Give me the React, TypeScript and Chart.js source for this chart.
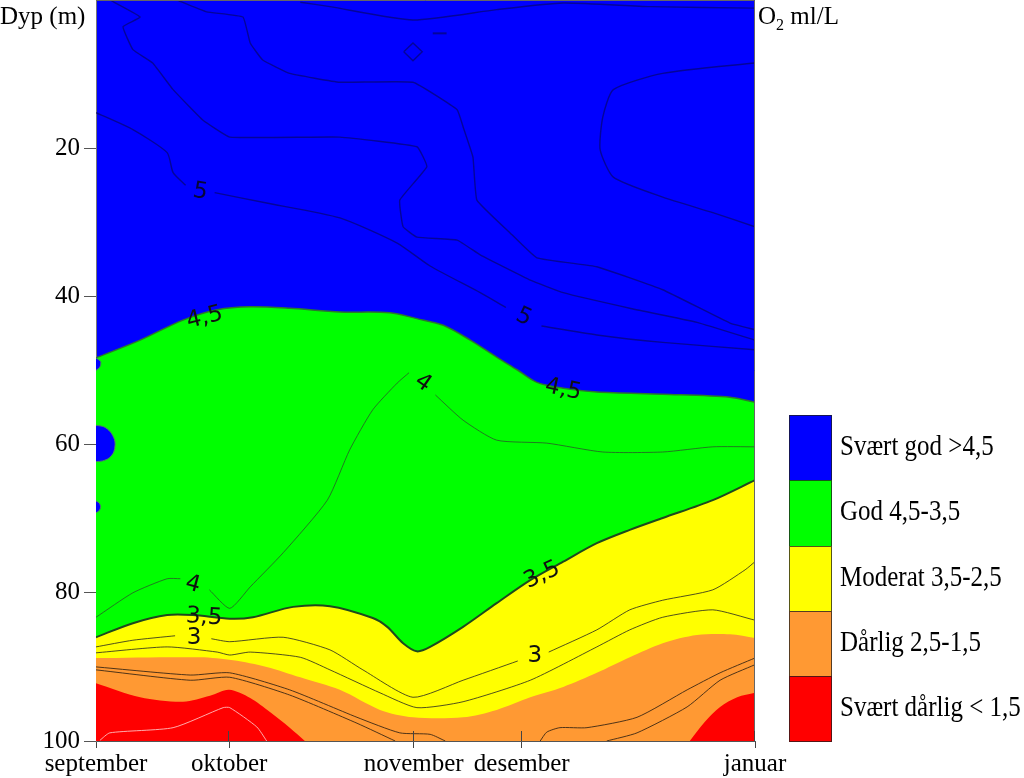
import React, { useEffect, useRef } from "react";
import { Chart, registerables } from "chart.js";

Chart.register(...registerables);

// x: relative position along the time axis (september = 0, januar = 100)
const MONTH_POS = [0, 20.2, 48.2, 64.6, 100];
const MONTH_LABELS = ["september", "oktober", "november", "desember", "januar"];
const DEPTH_TICKS = [20, 40, 60, 80, 100];

const LEGEND_LABELS = ["Svært god >4,5", "God 4,5-3,5", "Moderat 3,5-2,5", "Dårlig 2,5-1,5", "Svært dårlig < 1,5"];
const CLASS_COLORS = ["#0000FF", "#00FF00", "#FFFF00", "#FF9933", "#FF0000"];

type P = [number, number | null]; // [time position, depth (m)]

// class boundaries (filled down to 100 m)
const ISO_45: P[] = [[0,48.3],[6.7,45.9],[13.2,43.2],[18.4,41.8],[23.4,41.4],[29.4,41.6],[37.0,42.1],[44.6,42.2],[48.7,43.0],[52.7,43.9],[56.8,45.9],[60.8,48.2],[63.9,49.9],[66.9,51.6],[70.9,52.4],[76.0,52.9],[86.0,53.2],[96.2,53.6],[100,54.3]];
const ISO_35: P[] = [[0,86.0],[5.6,84.1],[10.8,83.0],[14.7,83.0],[20.3,83.5],[23.8,83.3],[29.9,81.9],[35.5,81.8],[42.0,83.4],[44.2,84.6],[46.6,86.8],[48.7,87.9],[50.7,87.3],[55.7,84.6],[60.8,81.4],[65.9,78.3],[70.9,75.8],[76.0,73.3],[81.0,71.5],[86.0,69.9],[93.6,67.5],[100,64.8]];
const ISO_25: P[] = [[0,88.8],[15.8,88.7],[20.8,89.1],[25.9,90.0],[31.0,91.4],[37.0,93.1],[43.1,95.8],[48.1,96.8],[55.7,96.8],[60.8,95.8],[65.9,94.1],[70.9,92.7],[76.0,90.8],[81.0,88.7],[86.0,86.8],[91.2,85.7],[96.2,85.6],[100,86.1]];
const ISO_15_LEFT: P[] = [[0,92.2],[6.7,94.1],[13.2,94.7],[17.3,93.9],[20.2,93.1],[23.4,94.2],[26.4,96.1],[29.4,98.2],[31.7,100]];
const ISO_15_RIGHT: P[] = [[90.1,100],[92.4,97.4],[94.7,95.4],[97.3,94.1],[100,93.5]];

// small pockets > 4,5 inside the green band
const POCKET_A: P[] = [[0,57.4],[1.2,57.6],[2.2,58.3],[2.8,59.3],[2.9,60.0],[2.7,61.0],[2.0,61.8],[1.0,62.2],[0,62.3]];
const POCKET_B: P[] = [[0,67.6],[0.5,67.9],[0.7,68.4],[0.5,68.9],[0,69.2]];
const POCKET_C: P[] = [[0,48.3],[0.7,48.8],[0.6,49.5],[0,50.0]];

// contour lines (null = gap for label)
const ISO_5A: P[] = [[0,15.2],[5.6,17.5],[10.8,20.6],[11.7,23.3],[13.6,25.0],[15.6,null],[18.0,26.0],[25.9,27.4],[37.0,29.4],[45.7,32.8],[50.7,35.9],[58.3,39.5],[62.2,41.5],[64.8,null],[67.6,44.0],[76.0,45.2],[86.0,46.2],[100,47.2]];
const ISO_5B: P[] = [[2.1,0],[6.7,2.3],[4.1,3.6],[5.6,6.7],[8.6,8.5],[11.7,12.1],[16.2,16.2],[20.3,18.5],[37.0,18.5],[48.7,19.8],[50.2,22.5],[46.1,27.0],[46.6,30.6],[48.7,32.0],[54.8,32.4],[58.3,34.4],[65.9,37.8],[70.9,39.5],[81.0,41.6],[91.2,43.5],[100,45.9]];
const ISO_5C: P[] = [[12.3,0],[16.8,1.6],[22.3,2.3],[23.4,5.8],[25.3,8.1],[29.4,9.9],[37.0,11.1],[48.1,11.1],[54.8,14.8],[55.7,17.1],[57.2,21.2],[57.8,27.0],[62.8,31.4],[66.9,34.8],[76.0,36.0],[86.0,39.1],[96.2,43.6],[100,44.5]];
const ISO_5D: P[] = [[31.0,0.3],[35.5,0.9],[48.1,2.7],[60.8,1.3],[70.9,0.4],[84.1,0.9],[100,1.1]];
const ISO_5E: P[] = [[100,8.5],[86.0,9.9],[78.5,12.1],[76.9,15.8],[76.5,20.2],[78.5,23.9],[86.0,26.6],[93.6,28.7],[100,30.6]];
const ISO_5F: P[] = [[46.7,7.0],[48.1,5.8],[49.5,7.0],[48.1,8.2],[46.7,7.0]];
const ISO_5G: P[] = [[51.1,4.5],[53.2,4.5]];
const ISO_4: P[] = [[0,83.3],[5.6,80.0],[10.8,78.1],[12.8,78.1],[14.7,null],[17.2,79.6],[20.3,82.1],[23.4,79.2],[28.4,74.6],[35.1,67.5],[38.5,60.7],[42.0,55.3],[45.7,51.7],[47.5,50.3],[49.6,null],[51.5,53.3],[55.7,56.7],[60.8,59.4],[68.4,59.8],[76.9,61.0],[86.0,61.0],[93.6,60.3],[100,60.3]];
const ISO_3A: P[] = [[0,87.3],[5.6,86.4],[12.0,85.8],[14.7,null],[17.5,86.2],[20.3,86.6],[28.4,86.0],[35.5,87.7],[40.5,90.4],[48.1,94.1],[55.7,91.8],[64.0,89.2],[66.3,null],[68.7,88.0],[76.0,85.0],[81.0,82.3],[86.0,81.0],[93.6,79.6],[98.5,76.9],[100,75.8]];
const ISO_3B: P[] = [[0,88.1],[10.8,87.3],[18.4,88.0],[20.3,88.4],[23.4,88.0],[31.0,88.7],[35.5,90.4],[43.1,93.5],[48.7,95.5],[55.7,94.7],[65.9,91.8],[76.0,87.3],[81.0,85.0],[86.0,83.3],[93.6,82.3],[100,83.7]];
const ISO_2A: P[] = [[0,90.0],[14.3,91.1],[20.3,90.8],[29.4,93.1],[39.6,96.8],[46.1,98.9],[50.7,99.1],[53.0,100]];
const ISO_2B: P[] = [[0,90.4],[14.3,91.8],[20.3,91.4],[29.4,93.8],[39.6,97.6],[45.4,100]];
const ISO_2C: P[] = [[67.4,100],[68.4,98.8],[70.4,98.2],[74.5,98.2],[82.1,96.8],[89.7,93.1],[94.7,90.8],[100,88.8]];
const ISO_2D: P[] = [[77.5,100],[82.1,98.9],[89.7,95.4],[94.7,91.8],[100,89.7]];
const ISO_1: P[] = [[0.6,99.9],[2.1,98.9],[11.7,98.2],[19.3,95.5],[20.3,95.5],[24.4,98.1],[25.9,100]];

const CONTOUR_LABELS = [
  { text: "5", x: 15.8, d: 25.9, angle: 10 },
  { text: "4,5", x: 16.5, d: 42.9, angle: -14 },
  { text: "5", x: 64.9, d: 42.8, angle: 25 },
  { text: "4", x: 49.6, d: 51.7, angle: 35 },
  { text: "4,5", x: 70.9, d: 52.6, angle: 12 },
  { text: "4", x: 14.7, d: 78.9, angle: 15 },
  { text: "3,5", x: 16.4, d: 83.3, angle: 4 },
  { text: "3", x: 14.9, d: 86.1, angle: 0 },
  { text: "3,5", x: 67.7, d: 77.6, angle: -25 },
  { text: "3", x: 66.6, d: 88.6, angle: 0 },
];

const pts = (a: P[]) => a.map(([x, y]) => ({ x, y }));

const SERIF = '"Liberation Serif", "Times New Roman", serif';

function fillDs(data: P[], color: string, order: number, border = "rgba(0,0,0,0)", bw = 0, fill: any = { value: 100 }) {
  return {
    data: pts(data),
    backgroundColor: color,
    borderColor: border,
    borderWidth: bw,
    fill,
    order,
    tension: 0.3,
    pointRadius: 0,
  };
}
function lineDs(data: P[], color: string, width: number, tension = 0.2) {
  return {
    data: pts(data),
    borderColor: color,
    borderWidth: width,
    fill: false,
    order: 5,
    tension,
    pointRadius: 0,
  };
}

const overlayPlugin = {
  id: "overlay",
  beforeDraw(chart: any) {
    const { ctx, chartArea: a } = chart;
    ctx.save();
    ctx.fillStyle = CLASS_COLORS[0];
    ctx.fillRect(a.left, a.top, a.right - a.left, a.bottom - a.top);
    ctx.restore();
  },
  afterDatasetsDraw(chart: any) {
    const { ctx, chartArea: a, scales } = chart;
    ctx.save();
    ctx.font = '23px "DejaVu Sans", sans-serif';
    ctx.textAlign = "center";
    ctx.textBaseline = "middle";
    for (const l of CONTOUR_LABELS) {
      const px = scales.x.getPixelForValue(l.x);
      const py = scales.y.getPixelForValue(l.d);
      ctx.fillStyle = l.d < 50 && l.text === "5" ? "#06063a" : "#111";
      ctx.save();
      ctx.translate(px, py);
      ctx.rotate((l.angle * Math.PI) / 180);
      ctx.fillText(l.text, 0, 0);
      ctx.restore();
    }
    // frame (top / right)
    ctx.strokeStyle = "#666";
    ctx.lineWidth = 1;
    ctx.beginPath();
    ctx.moveTo(a.left, a.top + 0.5);
    ctx.lineTo(a.right - 0.5, a.top + 0.5);
    ctx.lineTo(a.right - 0.5, a.bottom);
    ctx.stroke();
    // inner tick marks on the time axis
    ctx.strokeStyle = "#444";
    ctx.beginPath();
    for (const v of MONTH_POS.slice(1)) {
      const px = Math.round(scales.x.getPixelForValue(v)) - 0.5;
      ctx.moveTo(px, a.bottom);
      ctx.lineTo(px, a.bottom - 10);
    }
    ctx.stroke();
    ctx.restore();
  },
};

export default function App() {
  const ref = useRef<HTMLCanvasElement>(null);
  useEffect(() => {
    const blueLine = "rgba(5,5,110,0.7)";
    const chart = new Chart(ref.current!, {
      type: "line",
      data: {
        datasets: [
          fillDs(ISO_45, CLASS_COLORS[1], 60, "#2a7a2a", 1.5) as any,
          fillDs(POCKET_A, CLASS_COLORS[0], 55, "#4f8060", 1, "shape"),
          fillDs(POCKET_B, CLASS_COLORS[0], 55, "#4f8060", 1, "shape"),
          fillDs(POCKET_C, CLASS_COLORS[0], 55, "#4f8060", 1, "shape"),
          fillDs(ISO_35, CLASS_COLORS[2], 50, "#1d4a1d", 2),
          fillDs(ISO_25, CLASS_COLORS[3], 40),
          fillDs(ISO_15_LEFT, CLASS_COLORS[4], 30),
          fillDs(ISO_15_RIGHT, CLASS_COLORS[4], 30),
          lineDs(ISO_5A, blueLine, 1.4),
          lineDs(ISO_5B, blueLine, 1.4, 0.1),
          lineDs(ISO_5C, blueLine, 1.4, 0.1),
          lineDs(ISO_5D, blueLine, 1.4),
          lineDs(ISO_5E, blueLine, 1.4),
          lineDs(ISO_5F, blueLine, 1.4, 0),
          lineDs(ISO_5G, blueLine, 2, 0),
          lineDs(ISO_4, "rgba(40,90,40,0.8)", 1),
          lineDs(ISO_3A, "rgba(50,50,30,0.85)", 1),
          lineDs(ISO_3B, "rgba(50,50,30,0.85)", 1),
          lineDs(ISO_2A, "rgba(60,40,20,0.9)", 1),
          lineDs(ISO_2B, "rgba(60,40,20,0.9)", 1),
          lineDs(ISO_2C, "rgba(60,40,20,0.9)", 1),
          lineDs(ISO_2D, "rgba(60,40,20,0.9)", 1),
          lineDs(ISO_1, "rgba(255,190,190,0.9)", 1),
        ],
      },
      options: {
        animation: false,
        responsive: false,
        events: [],
        layout: { padding: { left: 0, top: 0, right: 269, bottom: 0 } },
        plugins: { legend: { display: false }, tooltip: { enabled: false } },
        scales: {
          x: {
            type: "linear",
            min: 0,
            max: 100,
            afterBuildTicks: (s: any) => {
              s.ticks = MONTH_POS.map((v) => ({ value: v }));
            },
            afterFit: (s: any) => {
              s.height = 37;
              s.paddingLeft = 0;
              s.paddingRight = 0;
            },
            ticks: {
              autoSkip: false,
              maxRotation: 0,
              padding: 1,
              color: "#000",
              font: { family: SERIF, size: 25 },
              callback: (v: any) => MONTH_LABELS[MONTH_POS.indexOf(Number(v))] ?? "",
            },
            grid: { drawOnChartArea: false, tickLength: 7, color: "#444" },
            border: { display: true, color: "#555", width: 1 },
          },
          y: {
            type: "linear",
            reverse: true,
            min: 0,
            max: 100,
            afterBuildTicks: (s: any) => {
              s.ticks = DEPTH_TICKS.map((v) => ({ value: v }));
            },
            afterFit: (s: any) => {
              s.width = 96;
              s.paddingTop = 0;
              s.paddingBottom = 0;
            },
            ticks: {
              padding: 4,
              color: "#000",
              font: { family: SERIF, size: 25 },
            },
            grid: { drawOnChartArea: false, tickLength: 12, color: "#555" },
            border: { display: true, color: "#777", width: 1 },
          },
        },
      },
      plugins: [overlayPlugin],
    } as any);
    return () => chart.destroy();
  }, []);

  const boxTop = 415;
  const boxH = 65.3;
  return (
    <div
      style={{
        position: "absolute",
        left: 0,
        top: 0,
        width: 1024,
        height: 778,
        background: "#fff",
        fontFamily: SERIF,
        color: "#000",
        overflow: "hidden",
      }}
    >
      <canvas ref={ref} width={1024} height={778} style={{ display: "block", width: 1024, height: 778 }} />
      <div style={{ position: "absolute", left: 0, top: 3, fontSize: 25, lineHeight: "25px", whiteSpace: "nowrap" }}>
        Dyp (m)
      </div>
      <div style={{ position: "absolute", left: 758, top: 3, fontSize: 25, lineHeight: "25px", whiteSpace: "nowrap" }}>
        O<span style={{ fontSize: 16, position: "relative", top: 6 }}>2</span> ml/L
      </div>
      {LEGEND_LABELS.map((label, i) => (
        <React.Fragment key={label}>
          <div
            style={{
              position: "absolute",
              left: 789,
              top: boxTop + i * boxH,
              width: 43,
              height: boxH + 1,
              background: CLASS_COLORS[i],
              border: "1px solid rgba(30,30,30,0.75)",
              boxSizing: "border-box",
            }}
          />
          <div
            style={{
              position: "absolute",
              left: 840,
              top: boxTop + i * boxH + boxH / 2 - 12.5 - 3,
              fontSize: 25,
              lineHeight: "25px",
              whiteSpace: "nowrap",
              transform: "scaleY(1.2)",
              transformOrigin: "left center",
            }}
          >
            {label}
          </div>
        </React.Fragment>
      ))}
    </div>
  );
}
